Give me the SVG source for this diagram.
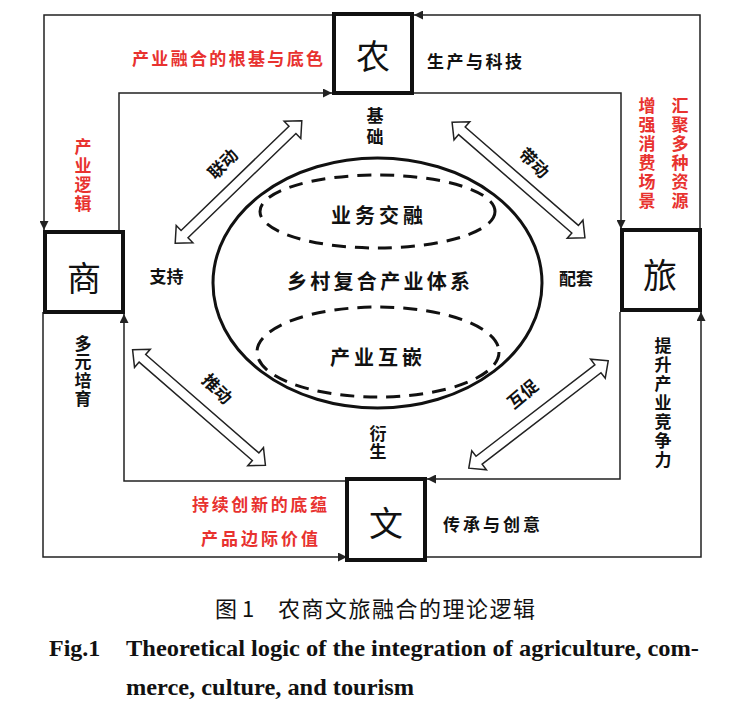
<svg xmlns="http://www.w3.org/2000/svg" width="729" height="712" viewBox="0 0 729 712">
<style>
.box{fill:#fff;stroke:#111;stroke-width:4}
.bl{font-family:"Noto Sans CJK SC","Noto Sans",sans-serif;font-size:34px;fill:#111;text-anchor:middle;dominant-baseline:central}
.lb{font-family:"Noto Sans CJK SC","Noto Sans",sans-serif;font-size:17px;font-weight:700;fill:#111;text-anchor:middle;dominant-baseline:central}
.vt{font-family:"Noto Sans CJK SC","Noto Sans",sans-serif;font-size:17px;font-weight:700;fill:#111;writing-mode:vertical-rl;text-orientation:upright;text-anchor:start;dominant-baseline:central}
.red{fill:#e8322f}
.in{font-family:"Noto Sans CJK SC","Noto Sans",sans-serif;font-size:20px;font-weight:700;fill:#111;text-anchor:middle;dominant-baseline:central}
.conn{fill:none;stroke:#222;stroke-width:1.5}
.ell{fill:none;stroke:#111;stroke-width:3}
.dash{fill:none;stroke:#111;stroke-width:3;stroke-dasharray:14 9}
.dbl{fill:#fff;stroke:#222;stroke-width:1.5;stroke-linejoin:miter}
.cap{font-family:"Noto Sans CJK SC","Noto Sans",sans-serif;font-size:22px;fill:#111;dominant-baseline:central}
.en{font-family:"Liberation Serif","Times New Roman",serif;font-size:24px;font-weight:700;fill:#111;dominant-baseline:central}
</style>
<defs>
<marker id="ah" viewBox="0 0 10 10" refX="10" refY="5" markerWidth="9" markerHeight="9" markerUnits="userSpaceOnUse" orient="auto">
<path d="M0,0 L10,5 L0,10 z" fill="#222"/>
</marker>
<polygon id="dblarrow" class="dbl" points="88,0 75,-12 75,-5 -75,-5 -75,-12 -88,0 -75,12 -75,5 75,5 75,12"/>
</defs>
<rect width="729" height="712" fill="#fff"/>

<g id="connectors">
<path class="conn" d="M334,15 H44 V230" marker-end="url(#ah)"/>
<path class="conn" d="M119,232 V93 H332" marker-end="url(#ah)"/>
<path class="conn" d="M700,230 V15 H414" marker-end="url(#ah)"/>
<path class="conn" d="M412,93 H621 V229" marker-end="url(#ah)"/>
<path class="conn" d="M425,557 H701 V312" marker-end="url(#ah)"/>
<path class="conn" d="M620,312 V479 H427" marker-end="url(#ah)"/>
<path class="conn" d="M43,312 V557 H347" marker-end="url(#ah)"/>
<path class="conn" d="M347,481 H124 V314" marker-end="url(#ah)"/>
<use href="#dblarrow" transform="translate(238.5,182) rotate(-44)"/>
<use href="#dblarrow" transform="translate(518.5,180) rotate(41)"/>
<use href="#dblarrow" transform="translate(199,407.5) rotate(41)"/>
<use href="#dblarrow" transform="translate(538.5,414.5) rotate(-37.6)"/>
</g>

<g id="node-nong"><rect class="box" x="334" y="14" width="78" height="79"/><text class="bl" x="373" y="54">农</text></g>
<g id="node-shang"><rect class="box" x="45" y="232" width="78" height="80"/><text class="bl" x="84" y="276">商</text></g>
<g id="node-lv"><rect class="box" x="622" y="230" width="78" height="80"/><text class="bl" x="660" y="273">旅</text></g>
<g id="node-wen"><rect class="box" x="347" y="479" width="78" height="81"/><text class="bl" x="386" y="521">文</text></g>

<g id="node-system">
<ellipse class="ell" cx="377.5" cy="283" rx="164.5" ry="125"/>
<ellipse class="dash" cx="377.5" cy="211.5" rx="117.5" ry="36.5"/>
<ellipse class="dash" cx="378" cy="352" rx="121" ry="45"/>
<text class="in" x="377" y="214" textLength="92" lengthAdjust="spacing">业务交融</text>
<text class="in" x="378.5" y="280" textLength="183" lengthAdjust="spacing">乡村复合产业体系</text>
<text class="in" x="376" y="356" textLength="92" lengthAdjust="spacing">产业互嵌</text>
</g>

<g id="labels">
<text class="lb red" x="227.5" y="57" font-size="18" textLength="191" lengthAdjust="spacing">产业融合的根基与底色</text>
<text class="lb" x="474.5" y="60" font-size="18" textLength="95" lengthAdjust="spacing">生产与科技</text>
<text class="lb" x="166.5" y="275" font-size="18">支持</text>
<text class="lb" x="576" y="277" font-size="18">配套</text>
<text class="lb red" x="259.5" y="503" font-size="18" textLength="135" lengthAdjust="spacing">持续创新的底蕴</text>
<text class="lb red" x="259.5" y="537" font-size="18" textLength="117" lengthAdjust="spacing">产品边际价值</text>
<text class="lb" x="491.5" y="523" font-size="18" textLength="97" lengthAdjust="spacing">传承与创意</text>
<text class="vt" x="375" y="107" font-size="16" letter-spacing="4">基础</text>
<text class="vt" x="378" y="425" letter-spacing="1">衍生</text>
<text class="vt red" x="83" y="138" letter-spacing="2">产业逻辑</text>
<text class="vt red" x="647" y="97" letter-spacing="2">增强消费场景</text>
<text class="vt red" x="680" y="97" letter-spacing="2">汇聚多种资源</text>
<text class="vt" x="83" y="335" letter-spacing="1.3">多元培育</text>
<text class="vt" x="663" y="337" letter-spacing="2">提升产业竞争力</text>
<text class="lb" transform="translate(222,163) rotate(-45)">联动</text>
<text class="lb" transform="translate(535,162) rotate(45)">带动</text>
<text class="lb" transform="translate(218,388) rotate(45)">推动</text>
<text class="lb" transform="translate(522,393) rotate(-40)">互促</text>
</g>

<g id="caption">
<text class="cap" x="215" y="607">图 1</text>
<text class="cap" x="278" y="607" textLength="257" lengthAdjust="spacing">农商文旅融合的理论逻辑</text>
<text class="en" x="49" y="648">Fig.1</text>
<text class="en" x="126" y="648" textLength="573" lengthAdjust="spacingAndGlyphs">Theoretical logic of the integration of agriculture, com-</text>
<text class="en" x="126" y="687" textLength="288" lengthAdjust="spacingAndGlyphs">merce, culture, and tourism</text>
</g>
</svg>
